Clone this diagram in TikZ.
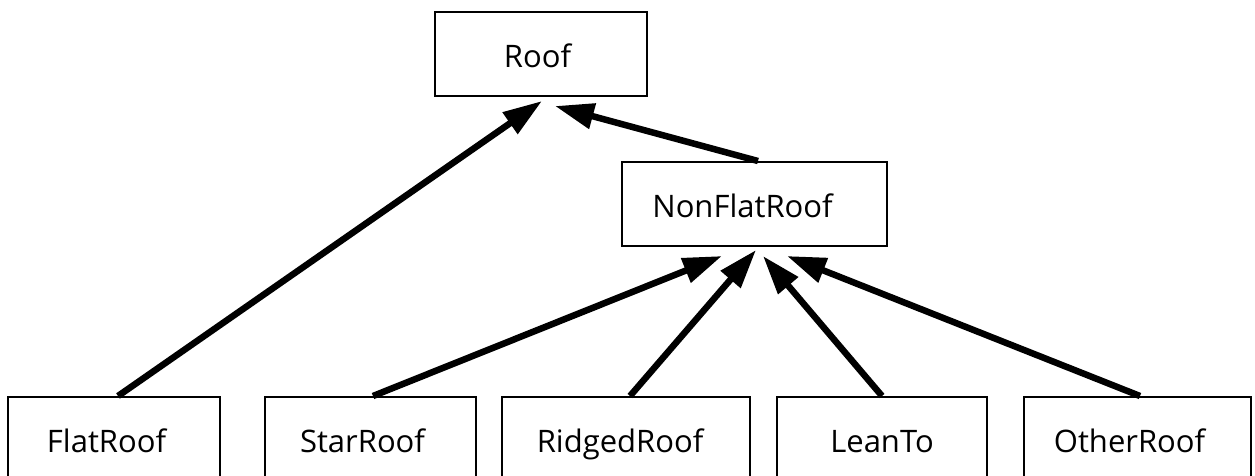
\documentclass[tikz,border=0pt]{standalone}
\usepackage{fontspec}
\setmainfont{Open Sans}
\usetikzlibrary{arrows.meta}
\begin{document}
\begin{tikzpicture}[x=1pt,y=-1pt,
  box/.style={draw=black,line width=2pt,fill=white,minimum height=84pt,inner sep=0pt,
    text height=26pt,text depth=0pt,font=\fontsize{31}{36}\selectfont},
  arr/.style={line width=6.5pt,-{Triangle[length=39pt,width=25pt]}}]
\path[use as bounding box] (0,0) rectangle (1255,475);
\clip (0,0) rectangle (1255,475);
\node[box,minimum width=212pt] (roof) at (541,54) {\hspace*{-7pt}Roof};
\node[box,minimum width=265pt] (nonflat) at (754.5,204) {\hspace*{-24pt}NonFlatRoof};
\node[box,minimum width=212pt] (flat) at (114,439) {\hspace*{-15pt}FlatRoof};
\node[box,minimum width=211pt] (star) at (370.5,439) {\hspace*{-16pt}StarRoof};
\node[box,minimum width=248pt] (ridged) at (626,439) {\hspace*{-12pt}RidgedRoof};
\node[box,minimum width=210pt] (lean) at (882,439) {LeanTo};
\node[box,minimum width=227pt] (other) at (1137.5,439) {\hspace*{-16pt}OtherRoof};
\draw[arr] ([xshift=4pt]flat.north) -- ([xshift=1pt,yshift=-4pt]roof.south);
\draw[arr] ([xshift=3.5pt]nonflat.north) -- ([xshift=14pt,yshift=-9pt]roof.south);
\draw[arr] ([xshift=2.5pt]star.north) -- ([xshift=-32.5pt,yshift=-9pt]nonflat.south);
\draw[arr] ([xshift=4pt]ridged.north) -- ([xshift=1.5pt,yshift=-3pt]nonflat.south);
\draw[arr] (lean.north) -- ([xshift=8.5pt,yshift=-9pt]nonflat.south);
\draw[arr] ([xshift=2.5pt]other.north) -- ([xshift=32.5pt,yshift=-9pt]nonflat.south);
\end{tikzpicture}
\end{document}
